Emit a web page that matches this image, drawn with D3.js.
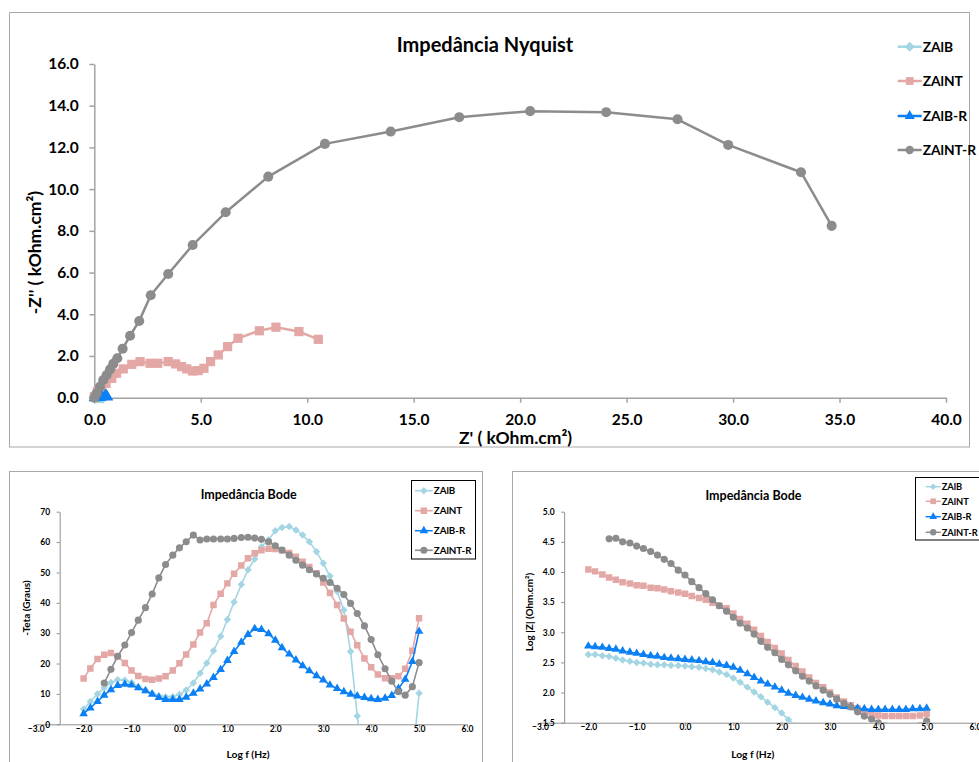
<!DOCTYPE html>
<html>
<head>
<meta charset="utf-8">
<script src="https://cdn.jsdelivr.net/npm/d3@7"></script>
<style>
  body { margin: 0; background: #fff; }
  svg { display: block; }
</style>
</head>
<body>
<svg width="979" height="762"></svg>
<script>
const seriesNames = ["ZAlB", "ZAlNT", "ZAlB-R", "ZAlNT-R"];
const seriesColors = ["#a3d5e3", "#e3a7a5", "#0b80f4", "#8c8c8c"];

// Nyquist: [Z', -Z''] in kOhm.cm2
const nyqZAlB = [[0.02, 0.0], [0.08, 0.01], [0.15, 0.02], [0.22, 0.03], [0.28, 0.03], [0.33, 0.04], [0.37, 0.04], [0.4, 0.03], [0.42, 0.02]];
const nyqZAlNT = [[0.0, 0.05], [0.14, 0.29], [0.35, 0.5], [0.55, 0.69], [0.82, 0.93], [1.05, 1.17], [1.36, 1.38], [1.76, 1.6], [2.15, 1.73], [2.62, 1.65], [2.98, 1.65], [3.47, 1.73], [3.82, 1.62], [4.1, 1.49], [4.34, 1.38], [4.62, 1.28], [4.88, 1.3], [5.15, 1.41], [5.46, 1.73], [5.82, 2.05], [6.26, 2.45], [6.75, 2.85], [7.75, 3.21], [8.53, 3.38], [9.61, 3.17], [10.52, 2.8]];
const nyqZAlBR = [[0.03, 0.0], [0.1, 0.02], [0.18, 0.03], [0.26, 0.04], [0.34, 0.05], [0.5, 0.06], [0.54, 0.07], [0.57, 0.06], [0.59, 0.04]];
const nyqZAlNTR = [[0.0, 0.0], [0.11, 0.21], [0.27, 0.53], [0.42, 0.85], [0.58, 1.09], [0.74, 1.36], [0.89, 1.62], [1.08, 1.89], [1.33, 2.35], [1.68, 2.97], [2.11, 3.68], [2.65, 4.91], [3.47, 5.93], [4.62, 7.32], [6.17, 8.89], [8.17, 10.6], [10.83, 12.17], [13.92, 12.76], [17.14, 13.45], [20.47, 13.74], [24.04, 13.69], [27.39, 13.35], [29.77, 12.12], [33.19, 10.81], [34.63, 8.24]];
const nyqXTicks = [0, 5, 10, 15, 20, 25, 30, 35, 40];
const nyqYTicks = [0, 2, 4, 6, 8, 10, 12, 14, 16];

// Bode: log f (Hz), 7 points per decade
const logF = [-2.00, -1.86, -1.71, -1.57, -1.43, -1.29, -1.14, -1.00, -0.86, -0.71,
  -0.57, -0.43, -0.29, -0.14, 0.00, 0.14, 0.29, 0.43, 0.57, 0.71,
  0.86, 1.00, 1.14, 1.29, 1.43, 1.57, 1.71, 1.86, 2.00, 2.14,
  2.29, 2.43, 2.57, 2.71, 2.86, 3.00, 3.14, 3.29, 3.43, 3.57,
  3.71, 3.86, 4.00, 4.14, 4.29, 4.43, 4.57, 4.71, 4.86, 5.00];

// -Teta (Graus)
const phZAlB = [5.0, 7.5, 10.0, 12.0, 13.8, 14.7, 14.5, 13.8, 12.4, 11.3,
  10.2, 9.4, 9.1, 9.1, 9.8, 11.3, 13.6, 16.8, 20.2, 24.2,
  29.0, 34.5, 40.3, 46.0, 50.9, 54.4, 58.5, 60.8, 63.7, 64.8,
  65.1, 64.0, 62.3, 60.1, 56.8, 53.0, 48.8, 43.7, 37.6, 24.0,
  2.7, -16, null, null, null, null, null, null, -12, 10.2];
const phZAlNT = [15.1, 18.4, 21.5, 22.9, 23.5, 22.3, 20.2, 17.7, 15.9, 14.9,
  14.7, 15.1, 15.8, 17.7, 20.1, 23.0, 26.3, 30.2, 33.3, 39.3,
  43.0, 46.4, 49.6, 52.3, 54.7, 56.3, 57.3, 57.8, 57.7, 57.2,
  56.4, 55.2, 53.5, 51.8, 49.7, 46.7, 43.2, 39.3, 34.8, 30.5,
  26.0, 21.7, 18.8, 16.4, 15.2, 15.2, 15.8, 18.3, 24.2, 34.9];
const phZAlBR = [3.5, 5.4, 7.5, 9.6, 11.4, 12.8, 13.2, 12.9, 12.0, 11.0,
  9.9, 8.8, 8.2, 8.2, 8.2, 8.9, 10.2, 11.6, 13.3, 15.4,
  18.0, 21.0, 24.0, 27.0, 29.6, 31.5, 31.2, 29.8, 27.7, 25.2,
  23.1, 21.2, 19.3, 17.6, 16.0, 14.6, 12.9, 11.8, 10.7, 9.9,
  9.3, 8.8, 8.4, 8.2, 8.6, 9.5, 11.8, 14.8, 20.7, 30.6];
const phZAlNTR = [null, null, null, 13.6, 18.1, 22.4, 26.1, 30.2, 34.3, 38.4,
  42.9, 48.2, 52.6, 55.7, 58.1, 60.1, 62.3, 60.7, 61.0, 61.0,
  61.0, 61.0, 61.2, 61.5, 61.6, 61.3, 60.9, 60.1, 58.8, 57.4,
  55.7, 54.0, 52.4, 50.9, 49.5, 48.1, 46.7, 44.8, 42.7, 39.8,
  36.5, 32.4, 27.9, 22.9, 18.3, 14.2, 10.7, 9.6, 12.4, 20.3];

// Log |Z| (Ohm.cm2)
const magZAlB = [2.63, 2.63, 2.61, 2.60, 2.57, 2.54, 2.52, 2.50, 2.49, 2.47,
  2.46, 2.46, 2.45, 2.45, 2.44, 2.43, 2.42, 2.40, 2.38, 2.34,
  2.30, 2.24, 2.17, 2.09, 2.01, 1.93, 1.84, 1.75, 1.66, 1.55,
  1.45, null, null, null, null, null, null, null, null, null,
  null, null, null, null, null, null, null, null, null, null];
const magZAlNT = [4.04, 4.01, 3.96, 3.91, 3.87, 3.83, 3.81, 3.78, 3.77, 3.74,
  3.73, 3.71, 3.68, 3.66, 3.64, 3.60, 3.57, 3.54, 3.49, 3.44,
  3.40, 3.31, 3.22, 3.14, 3.04, 2.94, 2.84, 2.74, 2.65, 2.54,
  2.44, 2.35, 2.25, 2.16, 2.09, 2.00, 1.92, 1.85, 1.79, 1.74,
  1.68, 1.64, 1.62, 1.61, 1.61, 1.61, 1.61, 1.61, 1.62, 1.65];
const magZAlBR = [2.77, 2.76, 2.75, 2.73, 2.72, 2.69, 2.67, 2.65, 2.63, 2.61,
  2.60, 2.58, 2.57, 2.56, 2.55, 2.54, 2.53, 2.51, 2.50, 2.47,
  2.45, 2.42, 2.37, 2.31, 2.25, 2.19, 2.14, 2.09, 2.04, 1.99,
  1.95, 1.92, 1.89, 1.86, 1.83, 1.81, 1.78, 1.77, 1.76, 1.74,
  1.73, 1.72, 1.72, 1.72, 1.72, 1.72, 1.72, 1.73, 1.73, 1.74];
const magZAlNTR = [null, null, null, 4.55, 4.56, 4.50, 4.48, 4.43, 4.39, 4.34,
  4.28, 4.21, 4.14, 4.03, 3.95, 3.84, 3.74, 3.64, 3.54, 3.44,
  3.35, 3.25, 3.15, 3.07, 2.97, 2.85, 2.75, 2.66, 2.55, 2.46,
  2.36, 2.27, 2.19, 2.11, 2.04, 1.97, 1.89, 1.82, 1.76, 1.68,
  1.61, 1.56, 1.50, 1.45, null, null, null, null, 1.45, 1.53];

const bodeXTicks = [-3, -2, -1, 0, 1, 2, 3, 4, 5, 6];
const phYTicks = [0, 10, 20, 30, 40, 50, 60, 70];
const magYTicks = [1.5, 2.0, 2.5, 3.0, 3.5, 4.0, 4.5, 5.0];

const FONT = "Lato, 'Open Sans', sans-serif";
const svg = d3.select("svg");
svg.append("rect").attr("width", 979).attr("height", 762).attr("fill", "#fff");

// Excel-like diamond (rotated square)
const diamond = {
  draw(ctx, size) {
    const r = Math.sqrt(size / 2);
    ctx.moveTo(0, -r); ctx.lineTo(r, 0); ctx.lineTo(0, r); ctx.lineTo(-r, 0); ctx.closePath();
  }
};
const symbolTypes = [diamond, d3.symbolSquare, d3.symbolTriangle, d3.symbolCircle];

function frame(x, y, w, h) {
  svg.append("rect")
    .attr("x", x).attr("y", y).attr("width", w).attr("height", h)
    .attr("fill", "none").attr("stroke", "#a9a9a9").attr("stroke-width", 1);
}

function styleAxis(g, size, color, width) {
  g.attr("font-family", FONT).attr("font-size", size).attr("font-weight", "bold");
  g.select(".domain").attr("stroke", color).attr("stroke-width", width);
  g.selectAll(".tick line").attr("stroke", color).attr("stroke-width", width);
  g.selectAll(".tick text").attr("fill", "#000");
}

function addText(x, y, txt, size, anchor, rotate) {
  return svg.append("text")
    .attr("font-family", FONT).attr("font-size", size).attr("font-weight", "bold")
    .attr("text-anchor", anchor || "middle").attr("fill", "#000")
    .attr("transform", `translate(${x},${y})` + (rotate ? " rotate(-90)" : ""))
    .text(txt);
}

function drawSeries(g, pts, x, y, i, lineW, sizes) {
  const line = d3.line().defined(d => d[1] != null).x(d => x(d[0])).y(d => y(d[1]));
  g.append("path").datum(pts)
    .attr("fill", "none").attr("stroke", seriesColors[i]).attr("stroke-width", lineW)
    .attr("stroke-linejoin", "round").attr("d", line);
  g.selectAll(null).data(pts.filter(d => d[1] != null)).enter().append("path")
    .attr("transform", d => `translate(${x(d[0])},${y(d[1])})`)
    .attr("d", d3.symbol().type(symbolTypes[i]).size(sizes[i]))
    .attr("fill", seriesColors[i]);
}

function legend(x0, x1, rows, fontSize, lineW, sizes) {
  seriesNames.forEach((name, i) => {
    const yy = rows[i];
    svg.append("line").attr("x1", x0).attr("x2", x1).attr("y1", yy).attr("y2", yy)
      .attr("stroke", seriesColors[i]).attr("stroke-width", lineW);
    svg.append("path").attr("transform", `translate(${(x0 + x1) / 2},${yy})`)
      .attr("d", d3.symbol().type(symbolTypes[i]).size(sizes[i]))
      .attr("fill", seriesColors[i]);
    addText(x1 + 1, yy + fontSize * 0.36, name, fontSize, "start");
  });
}

// ---------- Nyquist ----------
frame(9.5, 12.5, 960, 434.5);
const xN = d3.scaleLinear().domain([0, 40]).range([94.3, 946]);
const yN = d3.scaleLinear().domain([0, 16]).range([397.7, 64]);
const nyqAxisColor = "#a3a3a3";

svg.append("g").attr("transform", `translate(0,${yN(0)})`)
  .call(d3.axisBottom(xN).tickValues(nyqXTicks).tickFormat(d3.format(".1f")).tickSize(5).tickSizeOuter(0).tickPadding(11))
  .call(g => styleAxis(g, 15.5, nyqAxisColor, 1.5));
svg.append("g").attr("transform", `translate(${xN(0)},0)`)
  .call(d3.axisLeft(yN).tickValues(nyqYTicks).tickFormat(d3.format(".1f")).tickSize(5).tickSizeOuter(0).tickPadding(10.5))
  .call(g => styleAxis(g, 15.5, nyqAxisColor, 1.5));

const nyqSizes = [80, 85, 70, 80];
const gN = svg.append("g");
[nyqZAlB, nyqZAlNT, nyqZAlBR, nyqZAlNTR].forEach((s, i) => drawSeries(gN, s, xN, yN, i, 2.5, nyqSizes));

addText(485, 52.3, "Impedância Nyquist", 20);
addText(515.5, 444, "Z' ( kOhm.cm²)", 17.5);
addText(41, 252.5, "-Z'' ( kOhm.cm²)", 17.5, "middle", true);
legend(897.7, 921.7, [46.7, 81, 116, 150], 13.8, 2.5, [50, 60, 45, 55]);

// ---------- Bode charts ----------
const bodeAxisColor = "#8f8f8f";
const bodeSizes = [28, 42, 32, 40];

function bodeChart(opts) {
  const { xRange, yDomain, yRange, yTicks, yFormat, series } = opts;
  const x = d3.scaleLinear().domain([-3, 6]).range(xRange);
  const y = d3.scaleLinear().domain(yDomain).range(yRange);
  const clipId = opts.id + "-clip";
  svg.append("clipPath").attr("id", clipId).append("rect")
    .attr("x", xRange[0]).attr("y", yRange[1] - 2)
    .attr("width", xRange[1] - xRange[0]).attr("height", yRange[0] - yRange[1] + 2);

  svg.append("g").attr("transform", `translate(0,${yRange[0]})`)
    .call(d3.axisBottom(x).tickValues(bodeXTicks).tickFormat(d3.format(".1f")).tickSize(3).tickSizeOuter(0).tickPadding(-1.5))
    .call(g => styleAxis(g, 8.5, bodeAxisColor, 1));
  svg.append("g").attr("transform", `translate(${x(-2.5)},0)`)
    .call(d3.axisLeft(y).tickValues(yTicks).tickFormat(yFormat).tickSize(3).tickSizeOuter(0).tickPadding(6.5))
    .call(g => styleAxis(g, 8.5, bodeAxisColor, 1));

  const g = svg.append("g").attr("clip-path", `url(#${clipId})`);
  series.forEach((vals, i) => {
    const pts = logF.map((f, k) => [f, vals[k]]);
    drawSeries(g, pts, x, y, i, 1.6, bodeSizes);
  });
}

// phase
frame(9.5, 471.5, 473, 300);
bodeChart({
  id: "phase", xRange: [35.7, 467], yDomain: [0, 70], yRange: [724.3, 511.7],
  yTicks: phYTicks, yFormat: d3.format("d"),
  series: [phZAlB, phZAlNT, phZAlBR, phZAlNTR]
});
addText(248.7, 499, "Impedância Bode", 12.5);
addText(248, 758, "Log f (Hz)", 10.3);
addText(29.5, 608, "-Teta (Graus)", 10, "middle", true);
svg.append("rect").attr("x", 411.5).attr("y", 480.5).attr("width", 64).attr("height", 78.5)
  .attr("fill", "#fff").attr("stroke", "#000").attr("stroke-width", 1);
legend(415, 432.7, [490.7, 510.7, 530.7, 550.3], 9.8, 1.6, bodeSizes);

// magnitude
frame(512.5, 471.5, 480, 300);
bodeChart({
  id: "mag", xRange: [540, 975], yDomain: [1.5, 5], yRange: [722.7, 511.7],
  yTicks: magYTicks, yFormat: d3.format(".1f"),
  series: [magZAlB, magZAlNT, magZAlBR, magZAlNTR]
});
addText(753.5, 500, "Impedância Bode", 12.5);
addText(752.7, 758, "Log f (Hz)", 10.3);
addText(532.5, 612, "Log |Z| (Ohm.cm²)", 10, "middle", true);
svg.append("rect").attr("x", 915.5).attr("y", 477.5).attr("width", 80).attr("height", 62.5)
  .attr("fill", "#fff").attr("stroke", "#000").attr("stroke-width", 1);
legend(925.7, 940.7, [486.7, 501.3, 516.7, 532.3], 9.3, 1.5, [22, 32, 26, 32]);
</script>
</body>
</html>
